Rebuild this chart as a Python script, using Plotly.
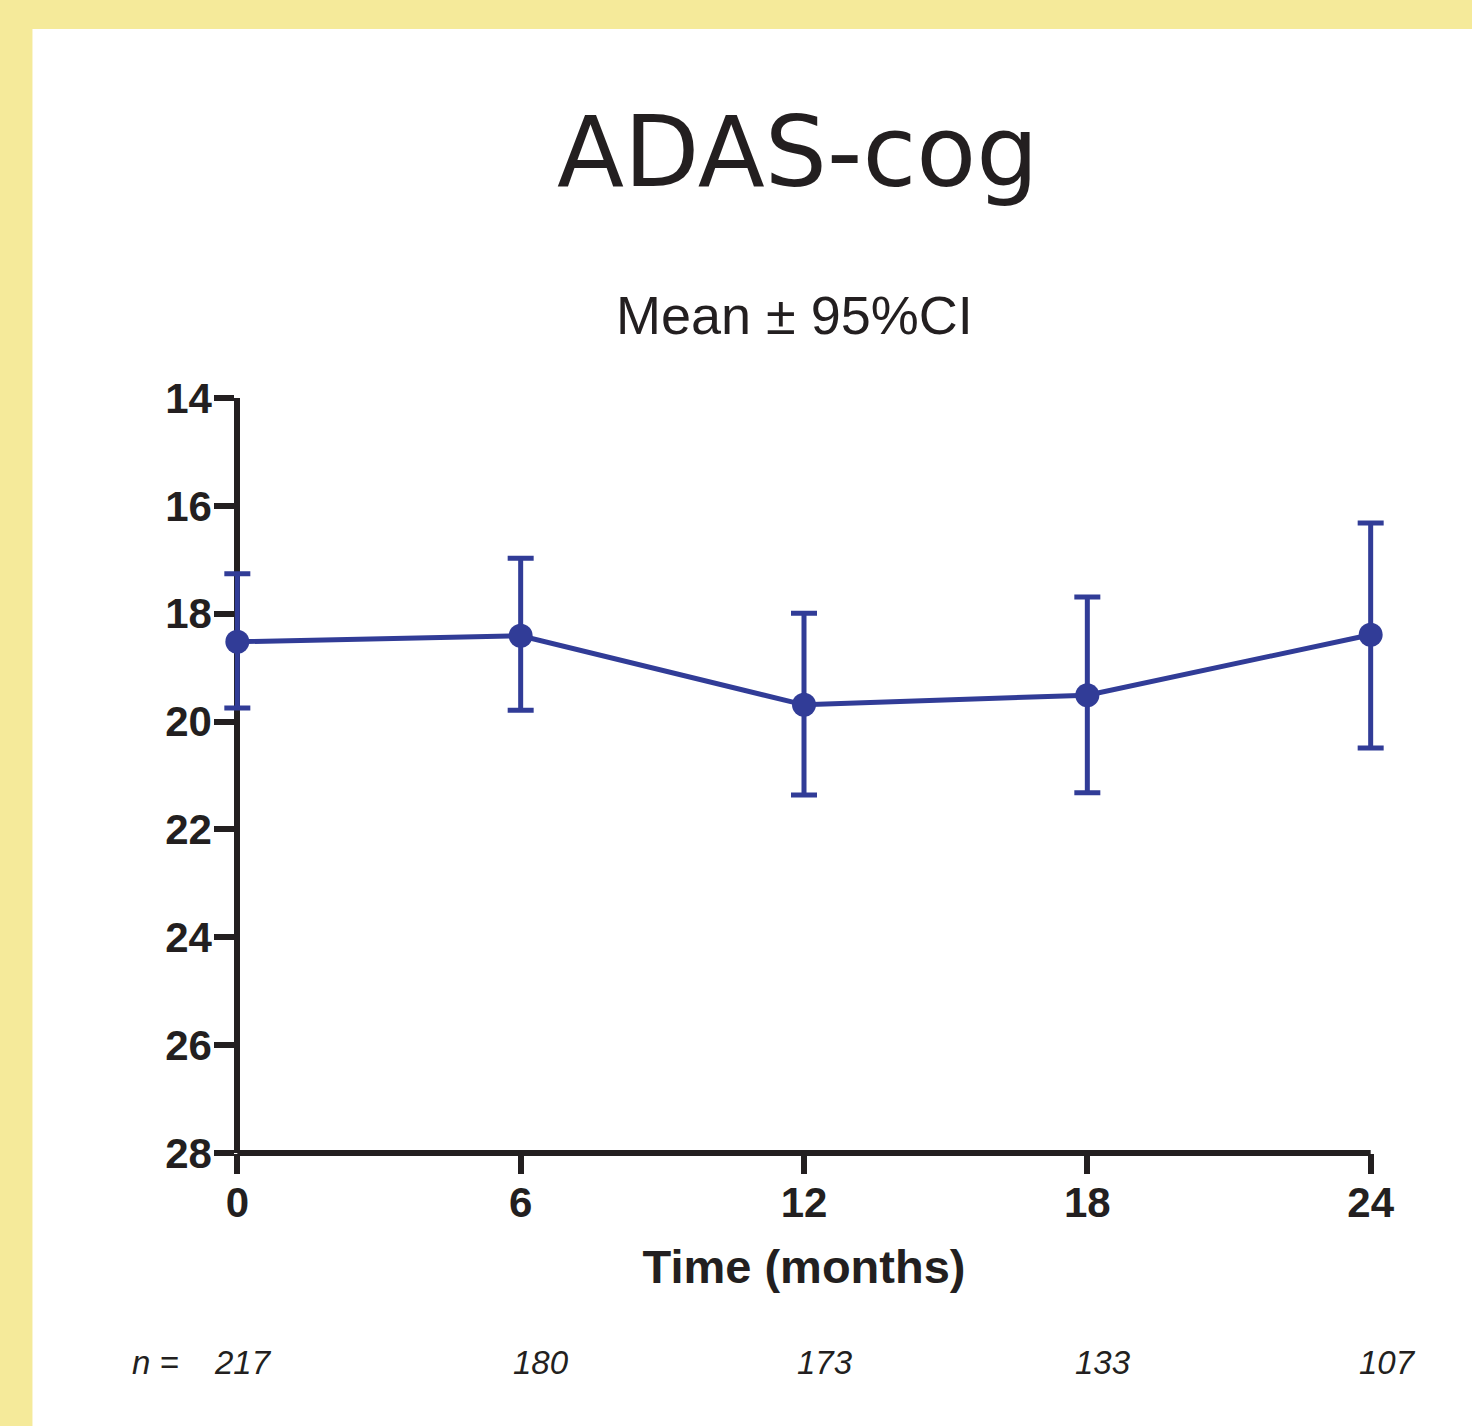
import plotly.graph_objects as go

# ---- data ----
months = [0, 6, 12, 18, 24]
mean_score = [18.52, 18.41, 19.69, 19.51, 18.39]
ci_low = [17.26, 16.97, 17.99, 17.69, 16.32]
ci_high = [19.75, 19.79, 21.36, 21.32, 20.49]
n_counts = ["217", "180", "173", "133", "107"]
y_ticks = [14, 16, 18, 20, 22, 24, 26, 28]

BLUE = "#313C97"
INK = "#231F20"
YELLOW = "#F5EA9A"

err_plus = [h - m for h, m in zip(ci_high, mean_score)]
err_minus = [m - l for m, l in zip(mean_score, ci_low)]

fig = go.Figure()
fig.add_trace(go.Scatter(
    x=months, y=mean_score, mode="lines+markers",
    line=dict(color=BLUE, width=5),
    marker=dict(color=BLUE, size=24),
    error_y=dict(type="data", symmetric=False, array=err_plus, arrayminus=err_minus,
                 color=BLUE, thickness=5, width=13),
    cliponaxis=False, showlegend=False,
))

# body margin is removed in the page (post_script), so figure coords = reference coords
W, H = 1472, 1426
X_PAD = 0.6
unit = (1371 - 237) / 24.0
left_px = 237 - X_PAD * unit
plot_w = (24 + 2 * X_PAD) * unit
top_px = 398
bot_px = 1153
L, R, T, B = left_px, W - left_px - plot_w, top_px, H - bot_px
pw, ph = plot_w, bot_px - top_px

def px(x):
    return (x - L) / pw

def py(y):
    return (bot_px - y) / ph

shapes = [
    dict(type="rect", xref="paper", yref="paper",
         x0=px(32), x1=px(1480), y0=py(1440), y1=py(29),
         fillcolor="white", line=dict(width=0), layer="below"),
    dict(type="line", xref="x", yref="paper", x0=0, x1=24, y0=0, y1=0,
         line=dict(color=INK, width=6), layer="below"),
]

annotations = [
    dict(text="ADAS-cog", xref="paper", yref="paper", x=px(797), y=py(152),
         showarrow=False, font=dict(family="DejaVu Sans", size=98, color=INK),
         xanchor="center", yanchor="middle"),
    dict(text="Mean ± 95%CI", xref="paper", yref="paper", x=px(794), y=py(315),
         showarrow=False, font=dict(family="Liberation Sans", size=54, color=INK),
         xanchor="center", yanchor="middle"),
    dict(text="<i>n =</i>", xref="paper", yref="paper", x=px(181), y=py(1362),
         showarrow=False, font=dict(family="Liberation Sans", size=33, color=INK),
         xanchor="right", yanchor="middle"),
]
n_offsets = [6, 20, 21, 16, 17]
for m, n, off in zip(months, n_counts, n_offsets):
    annotations.append(dict(text=f"<i>{n}</i>", x=m, xref="x", yref="paper", y=py(1362),
                            xshift=off, showarrow=False,
                            font=dict(family="Liberation Sans", size=33, color=INK),
                            xanchor="center", yanchor="middle"))

fig.update_layout(
    width=W, height=H,
    margin=dict(l=L, r=R, t=T, b=B, pad=0, autoexpand=False),
    paper_bgcolor=YELLOW, plot_bgcolor="rgba(0,0,0,0)",
    shapes=shapes, annotations=annotations,
    xaxis=dict(range=[-X_PAD, 24 + X_PAD], tickvals=months,
               ticktext=[f"<b>{m}</b>" for m in months],
               showgrid=False, zeroline=False, showline=False,
               ticks="outside", ticklen=20, tickwidth=6, tickcolor=INK,
               ticklabelstandoff=-7,
               tickfont=dict(family="Liberation Sans", size=42, color=INK),
               title=dict(text="<b>Time (months)</b>", standoff=24,
                          font=dict(family="Liberation Sans", size=47, color=INK)),
               layer="below traces", fixedrange=True),
    yaxis=dict(range=[28, 14], tickvals=y_ticks, ticktext=[f"<b>{v}</b>" for v in y_ticks],
               anchor="free", position=X_PAD / (24 + 2 * X_PAD),
               showgrid=False, zeroline=False, showline=True, linecolor=INK, linewidth=6,
               ticks="outside", ticklen=20, tickwidth=6, tickcolor=INK,
               ticklabelstandoff=-6,
               tickfont=dict(family="Liberation Sans", size=42, color=INK),
               layer="below traces", fixedrange=True),
)

fig.write_html(
    "out.html",
    config={"displayModeBar": False, "staticPlot": True},
    post_script="document.body.style.margin='0';document.body.style.overflow='hidden';",
)
